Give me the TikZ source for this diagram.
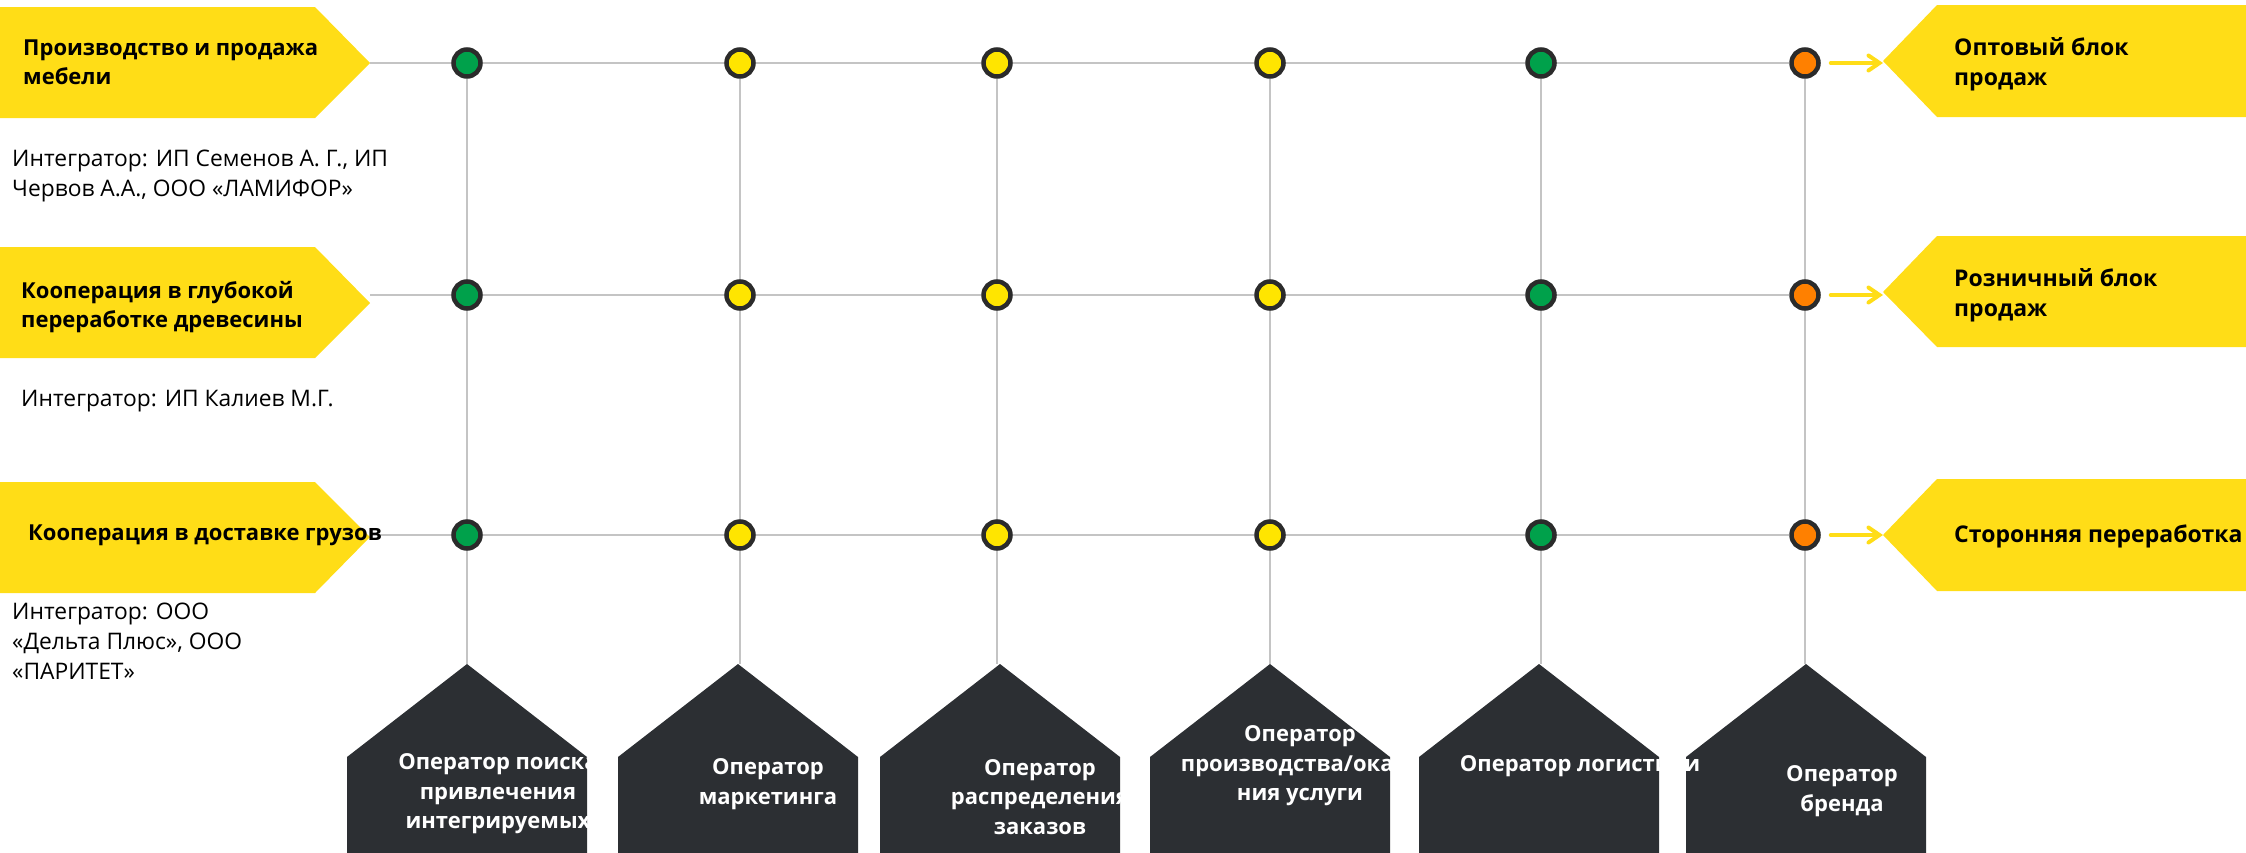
\documentclass[tikz,border=0pt]{standalone}
\usepackage{fontspec}
\setmainfont{Open Sans}
\usetikzlibrary{arrows.meta,backgrounds}
\definecolor{labelyellow}{HTML}{FFDD17}
\definecolor{opdark}{HTML}{2C2F33}
\definecolor{dotgreen}{HTML}{00A14B}
\definecolor{dotyellow}{HTML}{FFE500}
\definecolor{dotorange}{HTML}{FF8000}
\definecolor{dotrim}{HTML}{2B2B2B}
\definecolor{gridgray}{HTML}{C4C4C4}

\begin{document}
\begin{tikzpicture}[x=1pt,y=-1pt,
  dot/.style={circle,draw=dotrim,line width=4.5pt,minimum size=27pt,inner sep=0pt},
  gridline/.style={gridgray,line width=2.5pt},
  outarrow/.style={labelyellow,line width=4pt,line cap=round,shorten <=10pt,
    -{Straight Barb[length=11pt,width=15pt,line cap=round]}},
  blockname/.style={font=\bfseries\fontsize{22}{29}\selectfont,align=left,anchor=west,inner sep=0pt},
  outname/.style={font=\bfseries\fontsize{23}{30}\selectfont,align=left,anchor=west,inner sep=0pt},
  integr/.style={font=\fontsize{22.8}{30}\selectfont,align=left,anchor=west,inner sep=0pt},
  opname/.style={text=white,font=\bfseries\fontsize{22}{29.5}\selectfont,align=center,inner sep=0pt}]
  \useasboundingbox (0,0) rectangle (2246,852);

  % yellow blocks left and right
  \fill[labelyellow] (0,7) -- (315,7) -- (370,63) -- (315,118) -- (0,118) -- cycle;
  \fill[labelyellow] (0,247) -- (315,247) -- (370,303) -- (315,358) -- (0,358) -- cycle;
  \fill[labelyellow] (0,482) -- (315,482) -- (370,537) -- (315,593) -- (0,593) -- cycle;
  \fill[labelyellow] (2260,5) -- (1937,5) -- (1883,61) -- (1937,117) -- (2260,117) -- cycle;
  \fill[labelyellow] (2260,236) -- (1937,236) -- (1883,292) -- (1937,347) -- (2260,347) -- cycle;
  \fill[labelyellow] (2260,479) -- (1937,479) -- (1883,535) -- (1937,591) -- (2260,591) -- cycle;

  % operators
  \foreach \k/\cx in {1/467,2/738,3/1000,4/1270,5/1539,6/1806}
    \fill[opdark] (\cx-120,860) -- (\cx-120,757) -- (\cx,664) coordinate (top-\k)
      -- (\cx+120,757) -- (\cx+120,860) -- cycle;

  \foreach \r/\ly in {1/63,2/295,3/535} {
    \coordinate (lt-\r) at (370,\ly);
    \coordinate (rt-\r) at (1883,\ly);
    \foreach \k/\cx/\col in {1/467/dotgreen,2/740/dotyellow,3/997/dotyellow,
                             4/1270/dotyellow,5/1541/dotgreen,6/1805/dotorange}
      \node[dot,fill=\col] (c-\r-\k) at (\cx,\ly) {};
    \draw[outarrow] (c-\r-6) -- (rt-\r);
  }

  \begin{scope}[on background layer]
    \foreach \r in {1,2,3}
      \draw[gridline] (lt-\r) -- (c-\r-6);
    \foreach \k in {1,...,6}
      \draw[gridline] (c-1-\k) -- (c-1-\k |- top-\k);
  \end{scope}

  \node[blockname] (blk-1) at (23,62) {Производство и продажа\\мебели};
  \node[blockname] (blk-2) at (21,307) {Кооперация в глубокой\\переработке древесины};
  \node[blockname] (blk-3) at (28,535) {Кооперация в доставке грузов};

  \node[integr] (int-1) at (12,176) {Интегратор: ИП Семенов А. Г., ИП\\Червов А.А., ООО «ЛАМИФОР»};
  \node[integr] (int-2) at (21,401) {Интегратор: ИП Калиев М.Г.};
  \node[integr] (int-3) at (12,641) {Интегратор: ООО\\«Дельта Плюс», ООО\\«ПАРИТЕТ»};

  \node[outname] (out-1) at (1954,64) {Оптовый блок\\продаж};
  \node[outname] (out-2) at (1954,295) {Розничный блок\\продаж};
  \node[outname] (out-3) at (1954,536) {Сторонняя переработка};

  \node[opname] (op-1) at (498,794) {Оператор поиска\\привлечения\\интегрируемых};
  \node[opname] (op-2) at (768,784) {Оператор\\маркетинга};
  \node[opname] (op-3) at (1040,797) {Оператор\\распределения\\заказов};
  \node[opname] (op-4) at (1300,766) {Оператор\\производства/оказа\\ния услуги};
  \node[opname] (op-5) at (1580,766) {Оператор логистики};
  \node[opname] (op-6) at (1842,791) {Оператор\\бренда};
\end{tikzpicture}
\end{document}
